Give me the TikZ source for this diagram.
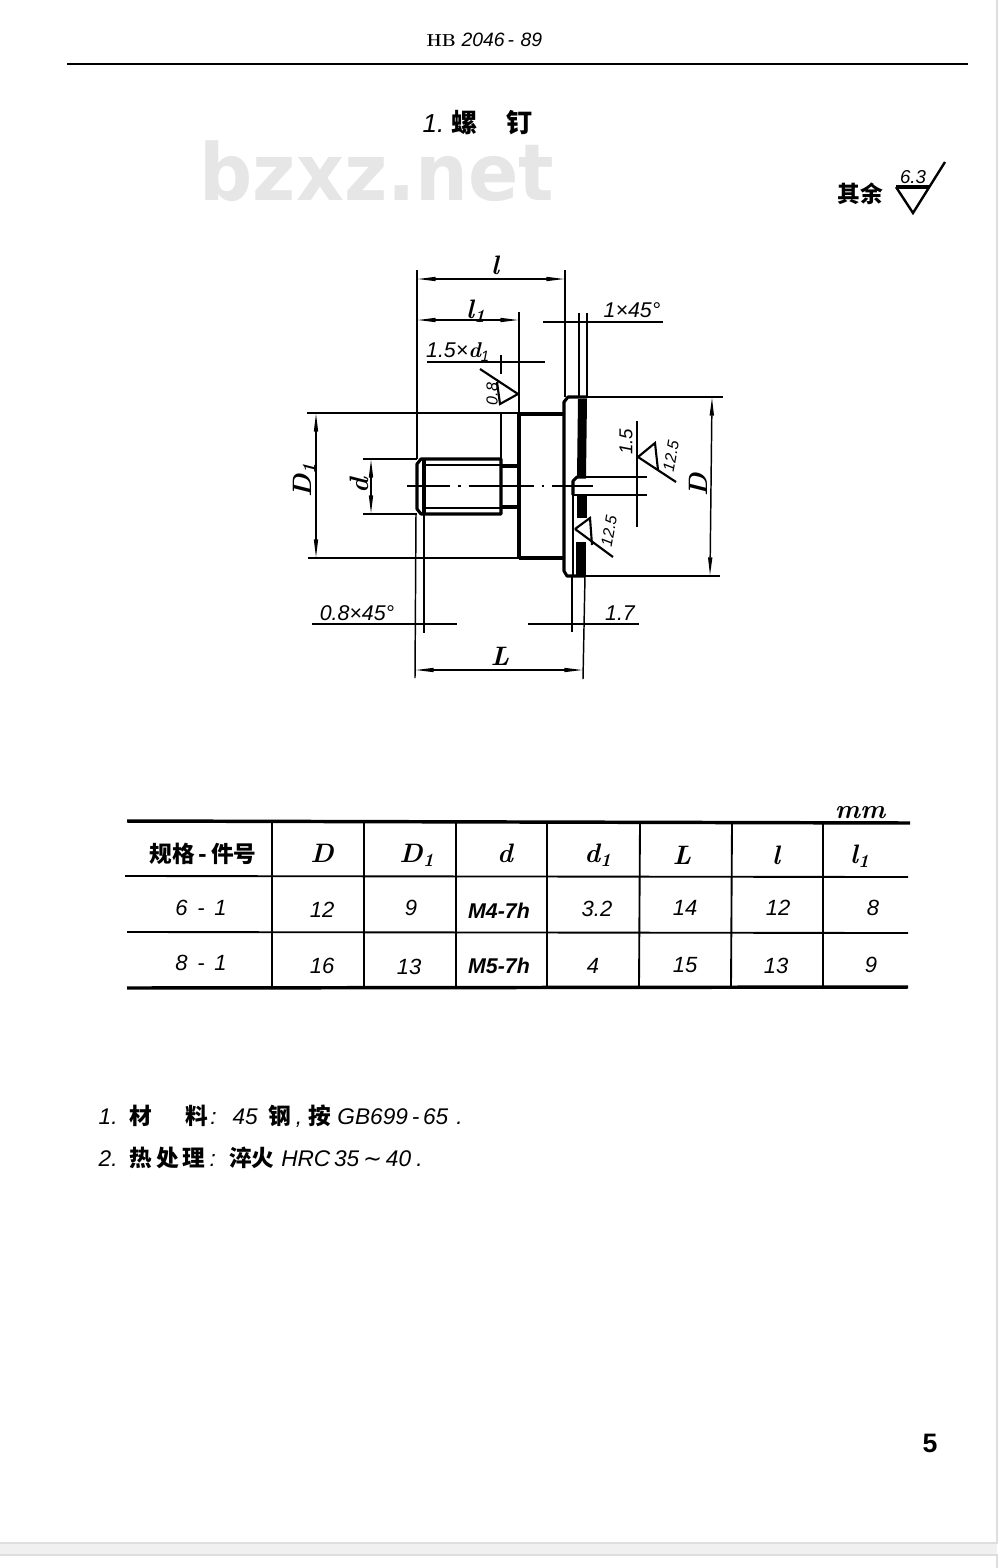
\documentclass[tikz,border=0pt]{standalone}
\usepackage{fontspec}
\usetikzlibrary{arrows.meta}
\newfontfamily\cjk{Noto Sans CJK SC}
\newfontfamily\dimfont{Liberation Sans}
\newfontfamily\markfont{DejaVu Sans}
\tikzset{every picture/.style={line width=1.1pt}}
\tikzset{
	outline/.style={line width=2.3pt,line join=round},
	halfline/.style={line width=1.6pt},
	tablebold/.style={line width=2.6pt},
	tablethin/.style={line width=1.4pt},
	dimline/.style={{Triangle[length=14pt,width=3pt]}-{Triangle[length=14pt,width=3pt]}},
	dimtext/.style={inner sep=0.75pt,font=\dimfont\itshape\fontsize{16}{18}\selectfont},
	lettertext/.style={inner sep=0.75pt,font=\bfseries\itshape\fontsize{20}{22}\selectfont},
	celltext/.style={inner sep=0.75pt,font=\dimfont\itshape\fontsize{16.5}{18}\selectfont},
	notetext/.style={anchor=west,inner sep=0.75pt,font=\dimfont\itshape\fontsize{17}{19}\selectfont},
	hantext/.style={inner sep=0.75pt,font=\cjk\bfseries\fontsize{17}{20}\selectfont},
}

\begin{document}
\begin{tikzpicture}[x=0.75pt,y=0.75pt,yscale=-1,xscale=1]
	\useasboundingbox (0,0) rectangle (1000,1568);
	\fill [white] (0,0) rectangle (1000,1568);
	%page edge
	\fill [fill={rgb, 255:red, 240; green, 240; blue, 240 }] (0,1543) rectangle (997,1555);
	\draw [color={rgb, 255:red, 222; green, 222; blue, 222 }] (0,1543) -- (997,1543) -- (997,0) ;
	\draw [color={rgb, 255:red, 222; green, 222; blue, 222 }] (0,1555) -- (997,1555) -- (997,1568) ;

	%watermark
	\draw (199,200) node (watermark) [anchor=base west,inner sep=0pt,xscale=0.945,color={rgb, 255:red, 230; green, 230; blue, 230 },font=\markfont\bfseries\fontsize{59}{60}\selectfont] {bzxz.net};

	%header
	\draw [line width=1.7pt] (67,64) -- (968,64) ;
	\draw (425,40) node (standard) [anchor=west,inner sep=0.75pt,font=\fontsize{13}{15}\selectfont] {\textbf{HB} \dimfont\itshape\fontsize{14.5}{15}\selectfont 2046\,-\,\,89};
	\draw (421,123) node (title) [anchor=west,inner sep=0.75pt,font=\fontsize{19.5}{22}\selectfont] {{\dimfont\itshape 1.}\hspace{5pt}{\cjk\bfseries 螺}\hspace{22pt}{\cjk\bfseries 钉}};

	%roughness in the corner
	\draw (860,194) node (rest) [hantext] {其余};
	\draw [outline] (896,187) -- (929,187) ;
	\draw [line width=1.8pt] (896,187) -- (913,213) -- (945,162) ;
	\draw (913,177) node (restvalue) [dimtext,font=\dimfont\itshape\fontsize{14}{15}\selectfont] {6.3};

	%part
	\fill (578,399) -- (587,399) -- (586,477) -- (577,477) -- cycle ;
	\fill (577,495) -- (587,495) -- (587,518) -- (577,518) -- cycle ;
	\fill (576,542) -- (586,542) -- (586,576) -- (576,576) -- cycle ;
	\draw [outline] (417,464) -- (421,459) -- (501,459) -- (501,514) -- (421,514) -- (417,509) -- cycle ;
	\draw [outline] (424,460) -- (424,513) ;
	\draw [halfline] (424,465) -- (501,465) ;
	\draw [halfline] (424,508) -- (501,508) ;
	\draw [outline] (501,466) -- (519,466) ;
	\draw [outline] (501,507) -- (519,507) ;
	\draw [outline] (519,413) -- (519,558) ;
	\draw [outline] (519,414) -- (564,414) ;
	\draw [outline] (519,558) -- (563,558) ;
	\draw [outline] (587,397) -- (568,397) -- (564,402) -- (564,571) -- (567,576) -- (585,576) ;
	\draw [outline] (573,495) -- (573,481) -- (577,477) -- (586,477) ;
	\draw [halfline] (573,495) -- (573,576) ;
	\draw [halfline] (573,495) -- (587,495) ;
	\draw [halfline,dash pattern=on 48.75pt off 6pt on 2pt off 6pt,dash phase=16.5pt] (407,486) -- (593,486) ;

	%extension lines
	\draw (417,270) -- (417,459) ;
	\draw (565,270) -- (565,397) ;
	\draw (519,312) -- (519,413) ;
	\draw (501,355) -- (501,374) ;
	\draw (501,412) -- (501,459) ;
	\draw (579,313) -- (579,397) ;
	\draw (587,313) -- (587,397) ;
	\draw (307,413) -- (519,413) ;
	\draw (308,558) -- (519,558) ;
	\draw (363,459) -- (417,459) ;
	\draw (363,514) -- (417,514) ;
	\draw (587,397) -- (723,397) ;
	\draw (585,576) -- (720,576) ;
	\draw (586,477) -- (647,477) ;
	\draw (586,495) -- (647,495) ;
	\draw (416,514) -- (415,678) ;
	\draw (424,514) -- (424,633) ;
	\draw (572,576) -- (572,632) ;
	\draw (585,576) -- (583,679) ;

	%dimension lines
	\draw [dimline] (417,279) -- (565,279) ;
	\draw [dimline] (417,320) -- (519,320) ;
	\draw (427,362) -- (545,362) ;
	\draw (543,322) -- (663,322) ;
	\draw [dimline] (316,413) -- (316,558) ;
	\draw [dimline] (371,459) -- (371,514) ;
	\draw [dimline] (712,397) -- (710,576) ;
	\draw (637,421) -- (637,527) ;
	\draw (312,624) -- (457,624) ;
	\draw (528,624) -- (639,624) ;
	\draw [dimline] (415,670) -- (583,670) ;

	%roughness symbols
	\draw [line width=1.6pt] (480,369) -- (518,394) -- (500,404) -- (497,382) ;
	\draw [line width=1.6pt] (638,457) -- (655,443) -- (658,470) ;
	\draw [line width=1.6pt] (638,457) -- (676,482) ;
	\draw [line width=1.6pt] (575,529) -- (590,518) -- (592,545) ;
	\draw [line width=1.6pt] (575,529) -- (613,557) ;

	%labels
	\draw (495,265) node (labell) [lettertext] {l};
	\draw (476,311) node (labellone) [lettertext] {l\textsubscript{1}};
	\draw (458,352) node (labelrelief) [dimtext] {1.5×\textrm{\bfseries d}\textsubscript{1}};
	\draw (632,310) node (labeltop) [dimtext] {1×45°};
	\draw (492,394) node (labeleight) [dimtext,rotate=90,font=\dimfont\itshape\fontsize{12}{14}\selectfont] {0.8};
	\draw (304,480) node (labelbig) [lettertext,rotate=90] {D\textsubscript{1}};
	\draw (359,486) node (labeld) [lettertext,rotate=90] {d};
	\draw (698,485) node (labelD) [lettertext,rotate=90] {D};
	\draw (626,442) node (labelslot) [dimtext,rotate=90,font=\dimfont\itshape\fontsize{14}{16}\selectfont] {1.5};
	\draw (671,456) node (labelslotfin) [dimtext,rotate=80,font=\dimfont\itshape\fontsize{12}{15}\selectfont] {12.5};
	\draw (609,531) node (labelfacefin) [dimtext,rotate=80,font=\dimfont\itshape\fontsize{12}{15}\selectfont] {12.5};
	\draw (357,613) node (labelchamfer) [dimtext] {0.8×45°};
	\draw (620,613) node (labelflange) [dimtext] {1.7};
	\draw (500,656) node (labelL) [lettertext] {L};

	%table
	\draw (860,813) node (unit) [lettertext] {mm};
	\draw [tablebold] (127,821) -- (910,823) ;
	\draw [tablethin] (125,876) -- (908,877) ;
	\draw [tablethin] (127,932) -- (908,933) ;
	\draw [tablebold] (127,988) -- (908,987) ;
	\draw [tablethin] (272,822) -- (272,988) ;
	\draw [tablethin] (364,822) -- (364,988) ;
	\draw [tablethin] (456,822) -- (456,988) ;
	\draw [tablethin] (547,823) -- (547,988) ;
	\draw [tablethin] (640,823) -- (639,988) ;
	\draw [tablethin] (732,823) -- (731,988) ;
	\draw [tablethin] (823,823) -- (823,988) ;

	\draw (203,854) node (headspec) [hantext] {规格\,-\,件号};
	\draw (322,853) node (headD) [lettertext] {D};
	\draw (417,855) node (headDone) [lettertext] {D\textsubscript{1}};
	\draw (505,853) node (headd) [lettertext] {d};
	\draw (598,855) node (headdone) [lettertext] {d\textsubscript{1}};
	\draw (682,855) node (headL) [lettertext] {L};
	\draw (776,855) node (headl) [lettertext] {l};
	\draw (860,856) node (headlone) [lettertext] {l\textsubscript{1}};

	\draw (201,908) node (spectop) [celltext] {6 \,-\, 1};
	\draw (322,910) node (Dtop) [celltext] {12};
	\draw (411,908) node (Donetop) [celltext] {9};
	\draw (499,911) node (dtop) [celltext,font=\dimfont\bfseries\itshape\fontsize{16}{18}\selectfont] {M4-7h};
	\draw (597,909) node (donetop) [celltext] {3.2};
	\draw (685,908) node (Ltop) [celltext] {14};
	\draw (778,908) node (ltop) [celltext] {12};
	\draw (873,908) node (lonetop) [celltext] {8};

	\draw (201,963) node (specbottom) [celltext] {8 \,-\, 1};
	\draw (322,966) node (Dbottom) [celltext] {16};
	\draw (409,967) node (Donebottom) [celltext] {13};
	\draw (499,966) node (dbottom) [celltext,font=\dimfont\bfseries\itshape\fontsize{16}{18}\selectfont] {M5-7h};
	\draw (593,966) node (donebottom) [celltext] {4};
	\draw (685,965) node (Lbottom) [celltext] {15};
	\draw (776,966) node (lbottom) [celltext] {13};
	\draw (871,965) node (lonebottom) [celltext] {9};

	%notes
	\draw (97,1116) node (noteone) [notetext] {1.\hspace{9pt}{\cjk\bfseries 材}\hspace{25pt}{\cjk\bfseries 料}\hspace{1.5pt}:\hspace{12pt}45\hspace{8pt}{\cjk\bfseries 钢}\hspace{3.5pt},\hspace{4.5pt}{\cjk\bfseries 按}\hspace{5pt}GB699\,-\,65\hspace{6pt}.};
	\draw (97,1158) node (notetwo) [notetext] {2.\hspace{9pt}{\cjk\bfseries 热}\hspace{3pt}{\cjk\bfseries 处}\hspace{3pt}{\cjk\bfseries 理}\hspace{3pt}:\hspace{10pt}{\cjk\bfseries 淬火}\hspace{5pt}HRC\,35\,{\markfont ∼}\,40\hspace{4pt}.};

	\draw (930,1443) node (pagenumber) [inner sep=0.75pt,font=\dimfont\bfseries\fontsize{20}{22}\selectfont] {5};
\end{tikzpicture}
\end{document}
